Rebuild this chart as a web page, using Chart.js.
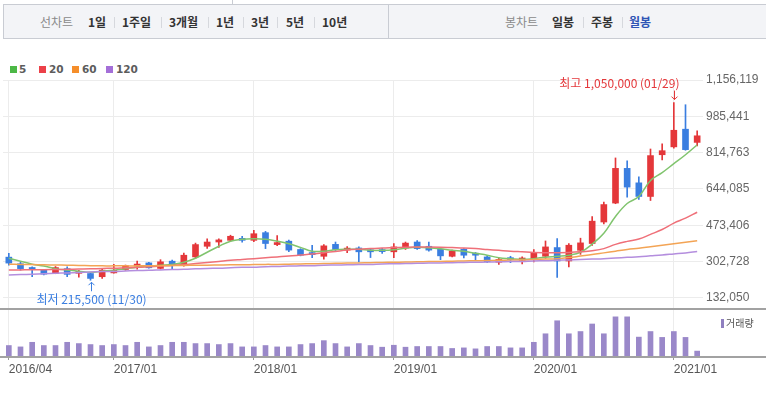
<!DOCTYPE html>
<html lang="ko">
<head>
<meta charset="utf-8">
<title>월봉 차트</title>
<script src="https://cdn.jsdelivr.net/npm/chart.js@4.4.1/dist/chart.umd.min.js"></script>
<style>
  html, body { margin: 0; padding: 0; background: #fff; }
  body { width: 766px; height: 393px; position: relative; overflow: hidden; font-family: "Noto Sans CJK KR", sans-serif; }
  .tabline { position: absolute; left: 232px; top: 0; width: 1px; height: 4px; background: #c9ccd3; }
  .toolbar { position: absolute; left: 3px; top: 4px; width: 780px; height: 33px; background: #f3f4f7; border: 1px solid #c9ccd3; }
  .divider { position: absolute; left: 388px; top: 5px; width: 1px; height: 33px; background: #c9ccd3; }
  .tb { position: absolute; top: 14px; line-height: 16px; font-size: 12px; font-weight: bold; color: #333; white-space: nowrap; }
  .tb.dim { font-weight: normal; color: #8a8a8a; }
  .tb.on { color: #2f55b5; }
  .sep { position: absolute; top: 17px; width: 1px; height: 11px; background: #d6d8dd; }
  .lg-box { position: absolute; top: 66px; width: 7px; height: 7px; }
  .lg-txt { position: absolute; top: 62px; line-height: 14px; font-family: "DejaVu Sans", sans-serif; font-size: 10.5px; font-weight: bold; color: #5c5c5c; }
  .hline { position: absolute; left: 0; width: 766px; height: 2px; background: #a2a2a2; }
  .vol-box { position: absolute; left: 721px; top: 319px; width: 3px; height: 9px; background: #8f7fc0; }
  .vol-txt { position: absolute; left: 726px; top: 316px; line-height: 14px; font-size: 10px; color: #555; }
  canvas { position: absolute; left: 0; }
</style>
</head>
<body>
<div class="tabline"></div>
<div class="toolbar"></div>
<div class="divider"></div>
<span class="tb dim" style="left:40px">선차트</span>
<span class="tb" style="left:88px">1일</span><span class="sep" style="left:114px"></span>
<span class="tb" style="left:122px">1주일</span><span class="sep" style="left:161px"></span>
<span class="tb" style="left:169px">3개월</span><span class="sep" style="left:208px"></span>
<span class="tb" style="left:216px">1년</span><span class="sep" style="left:243px"></span>
<span class="tb" style="left:251px">3년</span><span class="sep" style="left:277px"></span>
<span class="tb" style="left:286px">5년</span><span class="sep" style="left:314px"></span>
<span class="tb" style="left:322px">10년</span>
<span class="tb dim" style="left:505px">봉차트</span>
<span class="tb" style="left:552px">일봉</span><span class="sep" style="left:583px"></span>
<span class="tb" style="left:591px">주봉</span><span class="sep" style="left:622px"></span>
<span class="tb on" style="left:629px">월봉</span>

<div class="lg-box" style="left:10px;background:#4cb846"></div><span class="lg-txt" style="left:19px">5</span>
<div class="lg-box" style="left:39px;background:#ec4048"></div><span class="lg-txt" style="left:49px">20</span>
<div class="lg-box" style="left:72px;background:#f58e2a"></div><span class="lg-txt" style="left:82px">60</span>
<div class="lg-box" style="left:106px;background:#a46fd8"></div><span class="lg-txt" style="left:116px">120</span>

<canvas id="price" width="766" height="237" style="top:72px"></canvas>
<canvas id="volume" width="766" height="83" style="top:310px"></canvas>
<div class="hline" style="top:308px"></div>
<div class="hline" style="top:356px"></div>
<div class="vol-box"></div><span class="vol-txt">거래량</span>

<script>
// monthly candles 2016/04 - 2021/03
const categories = [
  "2016/04", "2016/05", "2016/06", "2016/07", "2016/08", "2016/09", "2016/10", "2016/11", "2016/12",
  "2017/01", "2017/02", "2017/03", "2017/04", "2017/05", "2017/06", "2017/07", "2017/08", "2017/09", "2017/10", "2017/11", "2017/12",
  "2018/01", "2018/02", "2018/03", "2018/04", "2018/05", "2018/06", "2018/07", "2018/08", "2018/09", "2018/10", "2018/11", "2018/12",
  "2019/01", "2019/02", "2019/03", "2019/04", "2019/05", "2019/06", "2019/07", "2019/08", "2019/09", "2019/10", "2019/11", "2019/12",
  "2020/01", "2020/02", "2020/03", "2020/04", "2020/05", "2020/06", "2020/07", "2020/08", "2020/09", "2020/10", "2020/11", "2020/12",
  "2021/01", "2021/02", "2021/03"
];

const open = [324000, 293000, 275000, 263000, 248000, 270000, 248000, 247000, 232000, 250000,
  266000, 282000, 297000, 271000, 305000, 290000, 325000, 375000, 395000, 403000,
  410000, 403000, 439000, 383000, 399000, 360000, 341000, 328000, 384000, 357000,
  367000, 357000, 357000, 349000, 367000, 395000, 375000, 361000, 328000, 361000,
  341000, 325000, 300000, 316000, 309000, 318000, 328000, 369000, 306000, 356000,
  388000, 489000, 578000, 741000, 673000, 609000, 805000, 842000, 925000, 863000];
const close = [296000, 270000, 266000, 244000, 275000, 243000, 252000, 224000, 263000, 262000,
  283000, 291000, 274000, 302000, 286000, 333000, 383000, 395000, 405000, 422000,
  403000, 434000, 388000, 390000, 357000, 333000, 336000, 377000, 360000, 361000,
  349000, 349000, 350000, 372000, 390000, 364000, 357000, 330000, 353000, 333000,
  333000, 302000, 313000, 312000, 320000, 346000, 372000, 306000, 380000, 391000,
  493000, 571000, 741000, 653000, 609000, 801000, 824000, 920000, 829000, 894000];
const high = [342000, 300000, 278000, 266000, 280000, 278000, 262000, 252000, 268000, 290000,
  287000, 305000, 300000, 312000, 310000, 343000, 390000, 410000, 410000, 427000,
  422000, 450000, 445000, 425000, 404000, 364000, 380000, 383000, 395000, 374000,
  372000, 365000, 365000, 388000, 395000, 402000, 395000, 367000, 357000, 364000,
  346000, 330000, 318000, 328000, 325000, 360000, 400000, 411000, 388000, 413000,
  515000, 583000, 790000, 777000, 701000, 832000, 856000, 1050000, 1040000, 917000];
const low = [286000, 263000, 232000, 240000, 246000, 232000, 230000, 215500, 224000, 249000,
  262000, 268000, 272000, 268000, 270000, 282000, 318000, 365000, 370000, 400000,
  394000, 397000, 364000, 378000, 350000, 330000, 322000, 315000, 355000, 345000,
  302000, 322000, 341000, 322000, 360000, 360000, 352000, 312000, 325000, 320000,
  312000, 298000, 290000, 298000, 292000, 302000, 318000, 229000, 278000, 337000,
  379000, 480000, 575000, 606000, 595000, 590000, 781000, 836000, 826000, 847000];

// moving averages
const ma5 = [319000, 305000, 291000, 282000, 270000, 263000, 258000, 253000, 258000, 263000,
  270000, 277000, 282000, 286000, 289000, 300000, 319000, 347000, 375000, 399000,
  408000, 410000, 408000, 399000, 387000, 370000, 352000, 352000, 359000, 361000,
  361000, 356000, 356000, 359000, 366000, 370000, 368000, 363000, 356000, 352000,
  342000, 333000, 321000, 317000, 314000, 317000, 324000, 328000, 333000, 347000,
  385000, 436000, 515000, 576000, 609000, 684000, 721000, 763000, 805000, 852000];
const ma20 = [263000, 264000, 265000, 265000, 266000, 267000, 268000, 269000, 271000, 272000,
  274000, 276000, 279000, 282000, 285000, 289000, 294000, 299000, 304000, 309000,
  313000, 317000, 321000, 325000, 329000, 334000, 339000, 345000, 351000, 357000,
  361000, 364000, 367000, 369000, 371000, 372000, 372000, 371000, 369000, 367000,
  364000, 360000, 356000, 352000, 349000, 346000, 345000, 345000, 346000, 349000,
  354000, 364000, 384000, 398000, 409000, 431000, 454000, 484000, 507000, 535000];
const ma60 = [291000, 290000, 289000, 288000, 287000, 286000, 285000, 284000, 283000, 283000,
  283000, 283000, 284000, 284000, 285000, 285000, 286000, 286000, 287000, 288000,
  288000, 289000, 290000, 290000, 291000, 292000, 293000, 294000, 295000, 296000,
  297000, 298000, 299000, 300000, 301000, 302000, 303000, 304000, 305000, 306000,
  307000, 308000, 309000, 310000, 311000, 313000, 315000, 317000, 322000, 329000,
  336000, 344000, 352000, 360000, 366000, 373000, 380000, 387000, 394000, 401000];
const ma120 = [240000, 242000, 244000, 246000, 248000, 250000, 252000, 254000, 256000, 257000,
  259000, 261000, 262000, 264000, 266000, 267000, 269000, 271000, 272000, 274000,
  276000, 277000, 279000, 280000, 282000, 283000, 284000, 286000, 287000, 288000,
  289000, 290000, 292000, 293000, 294000, 295000, 296000, 297000, 298000, 299000,
  300000, 301000, 302000, 303000, 304000, 306000, 307000, 309000, 311000, 313000,
  315000, 317000, 320000, 323000, 326000, 330000, 334000, 339000, 344000, 350000];

const volume = [214000, 186000, 280000, 214000, 214000, 280000, 254000, 234000, 214000, 234000,
  214000, 280000, 186000, 214000, 280000, 280000, 254000, 254000, 234000, 254000,
  186000, 186000, 214000, 186000, 186000, 234000, 254000, 314000, 254000, 186000,
  254000, 214000, 180000, 220000, 180000, 194000, 194000, 194000, 154000, 166000,
  146000, 194000, 194000, 166000, 166000, 280000, 454000, 720000, 454000, 500000,
  654000, 454000, 800000, 800000, 386000, 500000, 380000, 500000, 380000, 100000];

const yTicks = [132050, 302728, 473406, 644085, 814763, 985441, 1156119];

const RED = "#e4373a";
const BLUE = "#3a7ee0";
const GRID = "#ececec";

const yearIdx = categories.map((c, i) => (i === 0 || c.endsWith("/01")) ? i : -1).filter(i => i >= 0);
const candleColors = open.map((o, i) => close[i] >= o ? RED : BLUE);

const hiIdx = high.indexOf(Math.max(...high));
const loIdx = low.indexOf(Math.min(...low));

function arrow(ctx, x, from, to) {
  const d = to > from ? 1 : -1;
  ctx.beginPath();
  ctx.moveTo(x, from);
  ctx.lineTo(x, to);
  ctx.moveTo(x - 3, to - 3 * d);
  ctx.lineTo(x, to);
  ctx.lineTo(x + 3, to - 3 * d);
  ctx.stroke();
}

const markPlugin = {
  id: "marks",
  afterDatasetsDraw(chart) {
    const { ctx, scales: { x, y } } = chart;
    ctx.save();
    ctx.lineWidth = 1;
    ctx.font = '12px "Noto Sans CJK KR", sans-serif';
    ctx.textBaseline = "middle";

    const hx = Math.round(x.getPixelForValue(hiIdx)) + 0.5;
    const hy = y.getPixelForValue(high[hiIdx]);
    ctx.strokeStyle = ctx.fillStyle = RED;
    arrow(ctx, hx, hy - 12, hy - 3);
    ctx.textAlign = "right";
    ctx.fillText("최고 " + high[hiIdx].toLocaleString("en-US") + " (01/29)", hx + 5, hy - 19);

    const lx = Math.round(x.getPixelForValue(loIdx)) + 0.5;
    const ly = y.getPixelForValue(low[loIdx]);
    ctx.strokeStyle = ctx.fillStyle = BLUE;
    arrow(ctx, lx, ly + 11, ly + 2);
    ctx.textAlign = "center";
    ctx.fillText("최저 " + low[loIdx].toLocaleString("en-US") + " (11/30)", lx, ly + 19);
    ctx.restore();
  }
};

function maLine(label, data, color) {
  return {
    type: "line", label: label, data: data,
    borderColor: color, borderWidth: 1.5,
    pointRadius: 0, tension: 0.4, order: 0
  };
}

new Chart(document.getElementById("price"), {
  type: "bar",
  data: {
    labels: categories,
    datasets: [
      maLine("120", ma120, "#b48ede"),
      maLine("60", ma60, "#f3a455"),
      maLine("20", ma20, "#ef7079"),
      maLine("5", ma5, "#80c46e"),
      {
        label: "wick",
        data: low.map((l, i) => [l, high[i]]),
        backgroundColor: candleColors,
        barThickness: 1, grouped: false, order: 2
      },
      {
        label: "body",
        data: open.map((o, i) => [o, close[i]]),
        backgroundColor: candleColors,
        barThickness: 6, minBarLength: 2, grouped: false, order: 1
      }
    ]
  },
  options: {
    responsive: false,
    animation: false,
    layout: { padding: { left: 3, top: 8, right: 0, bottom: 1 } },
    plugins: { legend: { display: false }, tooltip: { enabled: false } },
    scales: {
      x: {
        grid: {
          offset: false, drawTicks: false,
          color: (c) => yearIdx.includes(c.index) ? GRID : "transparent"
        },
        border: { display: false },
        ticks: { display: false },
        afterFit: (s) => { s.height = 0; }
      },
      y: {
        position: "right",
        min: 85074,
        max: 1156119,
        afterBuildTicks: (s) => { s.ticks = yTicks.map(v => ({ value: v })); },
        afterFit: (s) => { s.width = 63; s.paddingTop = 0; s.paddingBottom = 0; },
        grid: { color: GRID, drawTicks: false },
        border: { display: false },
        ticks: {
          padding: 3,
          color: "#666",
          font: { family: '"Liberation Sans", Arial, sans-serif', size: 12 },
          callback: (v) => Number(v).toLocaleString("en-US")
        }
      }
    }
  },
  plugins: [markPlugin]
});

new Chart(document.getElementById("volume"), {
  type: "bar",
  data: {
    labels: categories,
    datasets: [{ label: "거래량", data: volume, backgroundColor: "#9a88c9", barThickness: 5 }]
  },
  options: {
    responsive: false,
    animation: false,
    layout: { padding: { left: 3, top: 0, right: 63, bottom: 0 } },
    plugins: { legend: { display: false }, tooltip: { enabled: false } },
    scales: {
      x: {
        grid: {
          offset: false, tickLength: 4,
          color: (c) => yearIdx.includes(c.index) ? GRID : "transparent",
          tickColor: (c) => yearIdx.includes(c.index) ? "#999" : "transparent"
        },
        border: { display: false },
        ticks: {
          autoSkip: false, maxRotation: 0, align: "start", padding: 2,
          color: "#555",
          font: { family: '"Liberation Sans", Arial, sans-serif', size: 12 },
          callback: (v, i) => yearIdx.includes(i) ? categories[i] : ""
        },
        afterFit: (s) => { s.height = 37; s.paddingLeft = 0; s.paddingRight = 0; }
      },
      y: { display: false, min: 0, max: 940000 }
    }
  }
});
</script>
</body>
</html>
